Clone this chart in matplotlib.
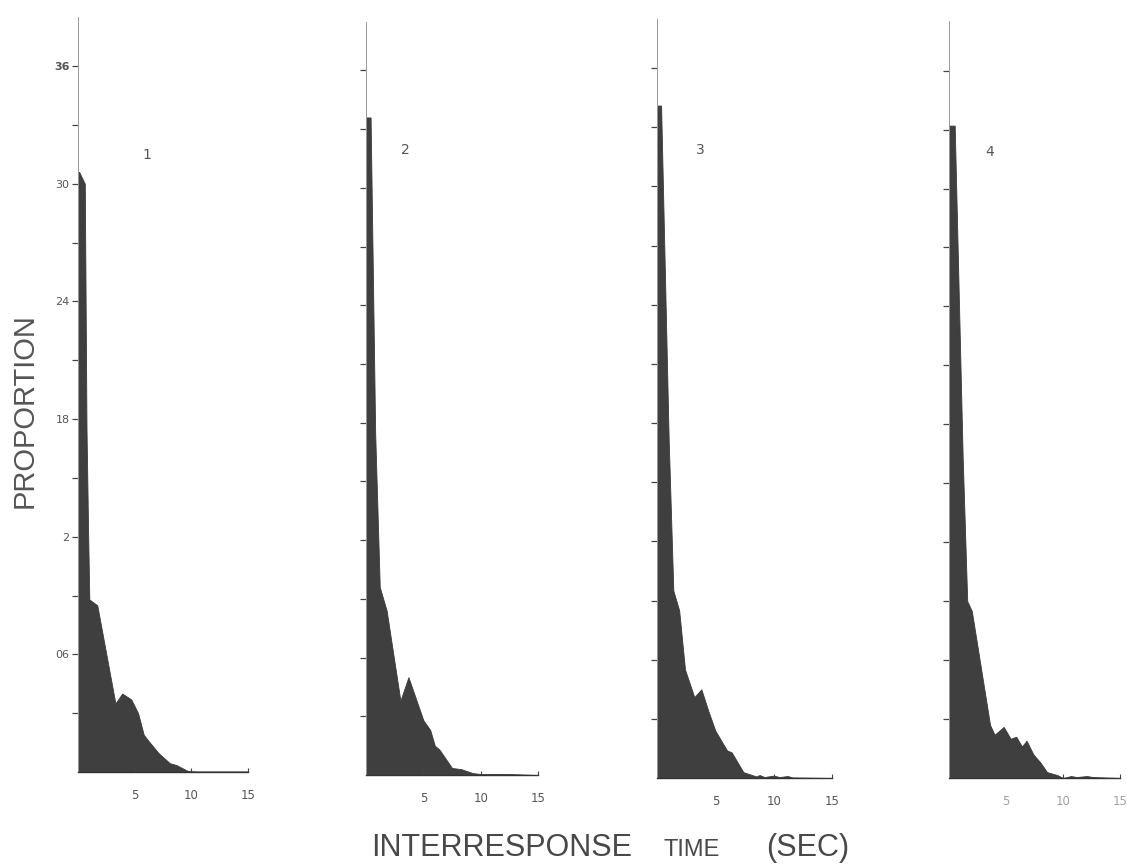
import numpy as np
import matplotlib
matplotlib.use('Agg')
import matplotlib.pyplot as plt

W, H = 1127, 864

# interresponse time (sec) vs proportion
t1 = [0, 0.1, 0.6, 0.75, 0.9, 1.0, 1.7, 3.3, 3.9, 4.7, 5.3, 5.8, 6.2, 7.1, 8.1, 8.7, 9.7, 10.5, 15]
p1 = [0.306, 0.306, 0.300, 0.175, 0.120, 0.088, 0.085, 0.035, 0.040, 0.037, 0.030, 0.019, 0.016, 0.0097, 0.0045, 0.0035, 0.0005, 0.0003, 0.0003]

t2 = [0, 0.4, 0.8, 1.2, 1.8, 3.0, 3.7, 5.0, 5.6, 6.0, 6.4, 7.5, 8.3, 9.3, 10.0, 12.5, 15]
p2 = [0.336, 0.336, 0.175, 0.096, 0.084, 0.038, 0.050, 0.028, 0.023, 0.015, 0.013, 0.0036, 0.003, 0.001, 0.0005, 0.0005, 0.0]

t3 = [0, 0.35, 1.0, 1.4, 1.9, 2.4, 3.2, 3.8, 4.4, 5.0, 6.0, 6.4, 7.4, 8.5, 8.8, 9.2, 10.0, 10.5, 11.2, 11.6, 15]
p3 = [0.341, 0.341, 0.172, 0.095, 0.085, 0.055, 0.041, 0.045, 0.034, 0.024, 0.014, 0.013, 0.003, 0.0008, 0.0015, 0.0005, 0.0012, 0.0005, 0.001, 0.0003, 0.0]

t4 = [0, 0.5, 1.2, 1.6, 2.0, 3.6, 4.0, 4.8, 5.4, 5.9, 6.4, 6.8, 7.4, 8.0, 8.6, 9.5, 10.0, 10.7, 11.2, 12.1, 12.6, 15]
p4 = [0.332, 0.332, 0.163, 0.090, 0.085, 0.027, 0.022, 0.026, 0.020, 0.021, 0.016, 0.019, 0.012, 0.008, 0.003, 0.0015, 0.0, 0.001, 0.0005, 0.001, 0.0005, 0.0]

panel_names = ['1', '2', '3', '4']
yticks = [0.03 * k for k in range(1, 13)]
ylabels_first = {0.36: '36', 0.30: '30', 0.24: '24', 0.18: '18', 0.12: '2', 0.06: '06'}
xticks = [5, 10, 15]
xlabels = ['5', '10', '15']

series = [(t1, p1), (t2, p2), (t3, p3), (t4, p4)]

# pixel layout of each panel: left, right (t=15), baseline, px per unit proportion
boxes = [(78, 248, 772, 1961), (366, 538, 775, 1957), (657, 832, 778, 1972), (949, 1120, 778, 1965)]
name_pos = [(147, 155), (405, 150), (700, 150), (990, 152)]
ytop = 0.385

fig = plt.figure(figsize=(W / 100, H / 100), dpi=100)
fig.patch.set_facecolor('white')

for i, ((t, p), (l, r, b, ppu)) in enumerate(zip(series, boxes)):
    h = ytop * ppu
    ax = fig.add_axes([l / W, 1 - b / H, (r - l) / W, h / H])
    ax.fill_between(t, p, 0, color='#3f3f3f', linewidth=0.6, edgecolor='#3a3a3a')
    ax.set_xlim(0, 15)
    ax.set_ylim(0, ytop)
    for s in ['top', 'right']:
        ax.spines[s].set_visible(False)
    ax.spines['left'].set_color('#999999')
    ax.spines['left'].set_linewidth(0.7)
    ax.spines['bottom'].set_color('#333333')
    ax.spines['bottom'].set_linewidth(1.0)
    ax.set_yticks(yticks)
    if i == 0:
        labs = []
        for v in yticks:
            labs.append(ylabels_first.get(round(v, 2), ''))
        ax.set_yticklabels(labs)
        ax.get_yticklabels()[-1].set_fontweight('bold')
        ax.get_yticklabels()[-1].set_color('#333333')
    else:
        ax.set_yticklabels([''] * len(yticks))
    ax.tick_params(axis='y', direction='out', length=4, width=0.9, color='#444444',
                   labelsize=8, labelcolor='#555555', pad=2)
    ax.set_xticks(xticks)
    ax.set_xticklabels(xlabels)
    xcol = '#a0a0a0' if i == 3 else '#555555'
    ax.tick_params(axis='x', direction='in', length=3, width=0.8, color='#444444',
                   labelsize=8.5, labelcolor=xcol, pad=12)
    ax.patch.set_alpha(0)
    fig.text(name_pos[i][0] / W, 1 - name_pos[i][1] / H, panel_names[i],
             fontsize=10, color='#555555', ha='center', va='center')

lab_font = ['Liberation Sans', 'DejaVu Sans']
fig.text(25 / W, 1 - 411 / H, 'PROPORTION', rotation=90, family=lab_font,
         fontsize=21, color='#555555', ha='center', va='center')
fig.text(371 / W, 1 - 856 / H, 'INTERRESPONSE', family=lab_font,
         fontsize=22, color='#484848', ha='left', va='baseline')
fig.text(692 / W, 1 - 856 / H, 'TIME', family=lab_font,
         fontsize=17, color='#484848', ha='center', va='baseline')
fig.text(808 / W, 1 - 856 / H, '(SEC)', family=lab_font,
         fontsize=22, color='#484848', ha='center', va='baseline')

fig.savefig('out.png', dpi=100)
